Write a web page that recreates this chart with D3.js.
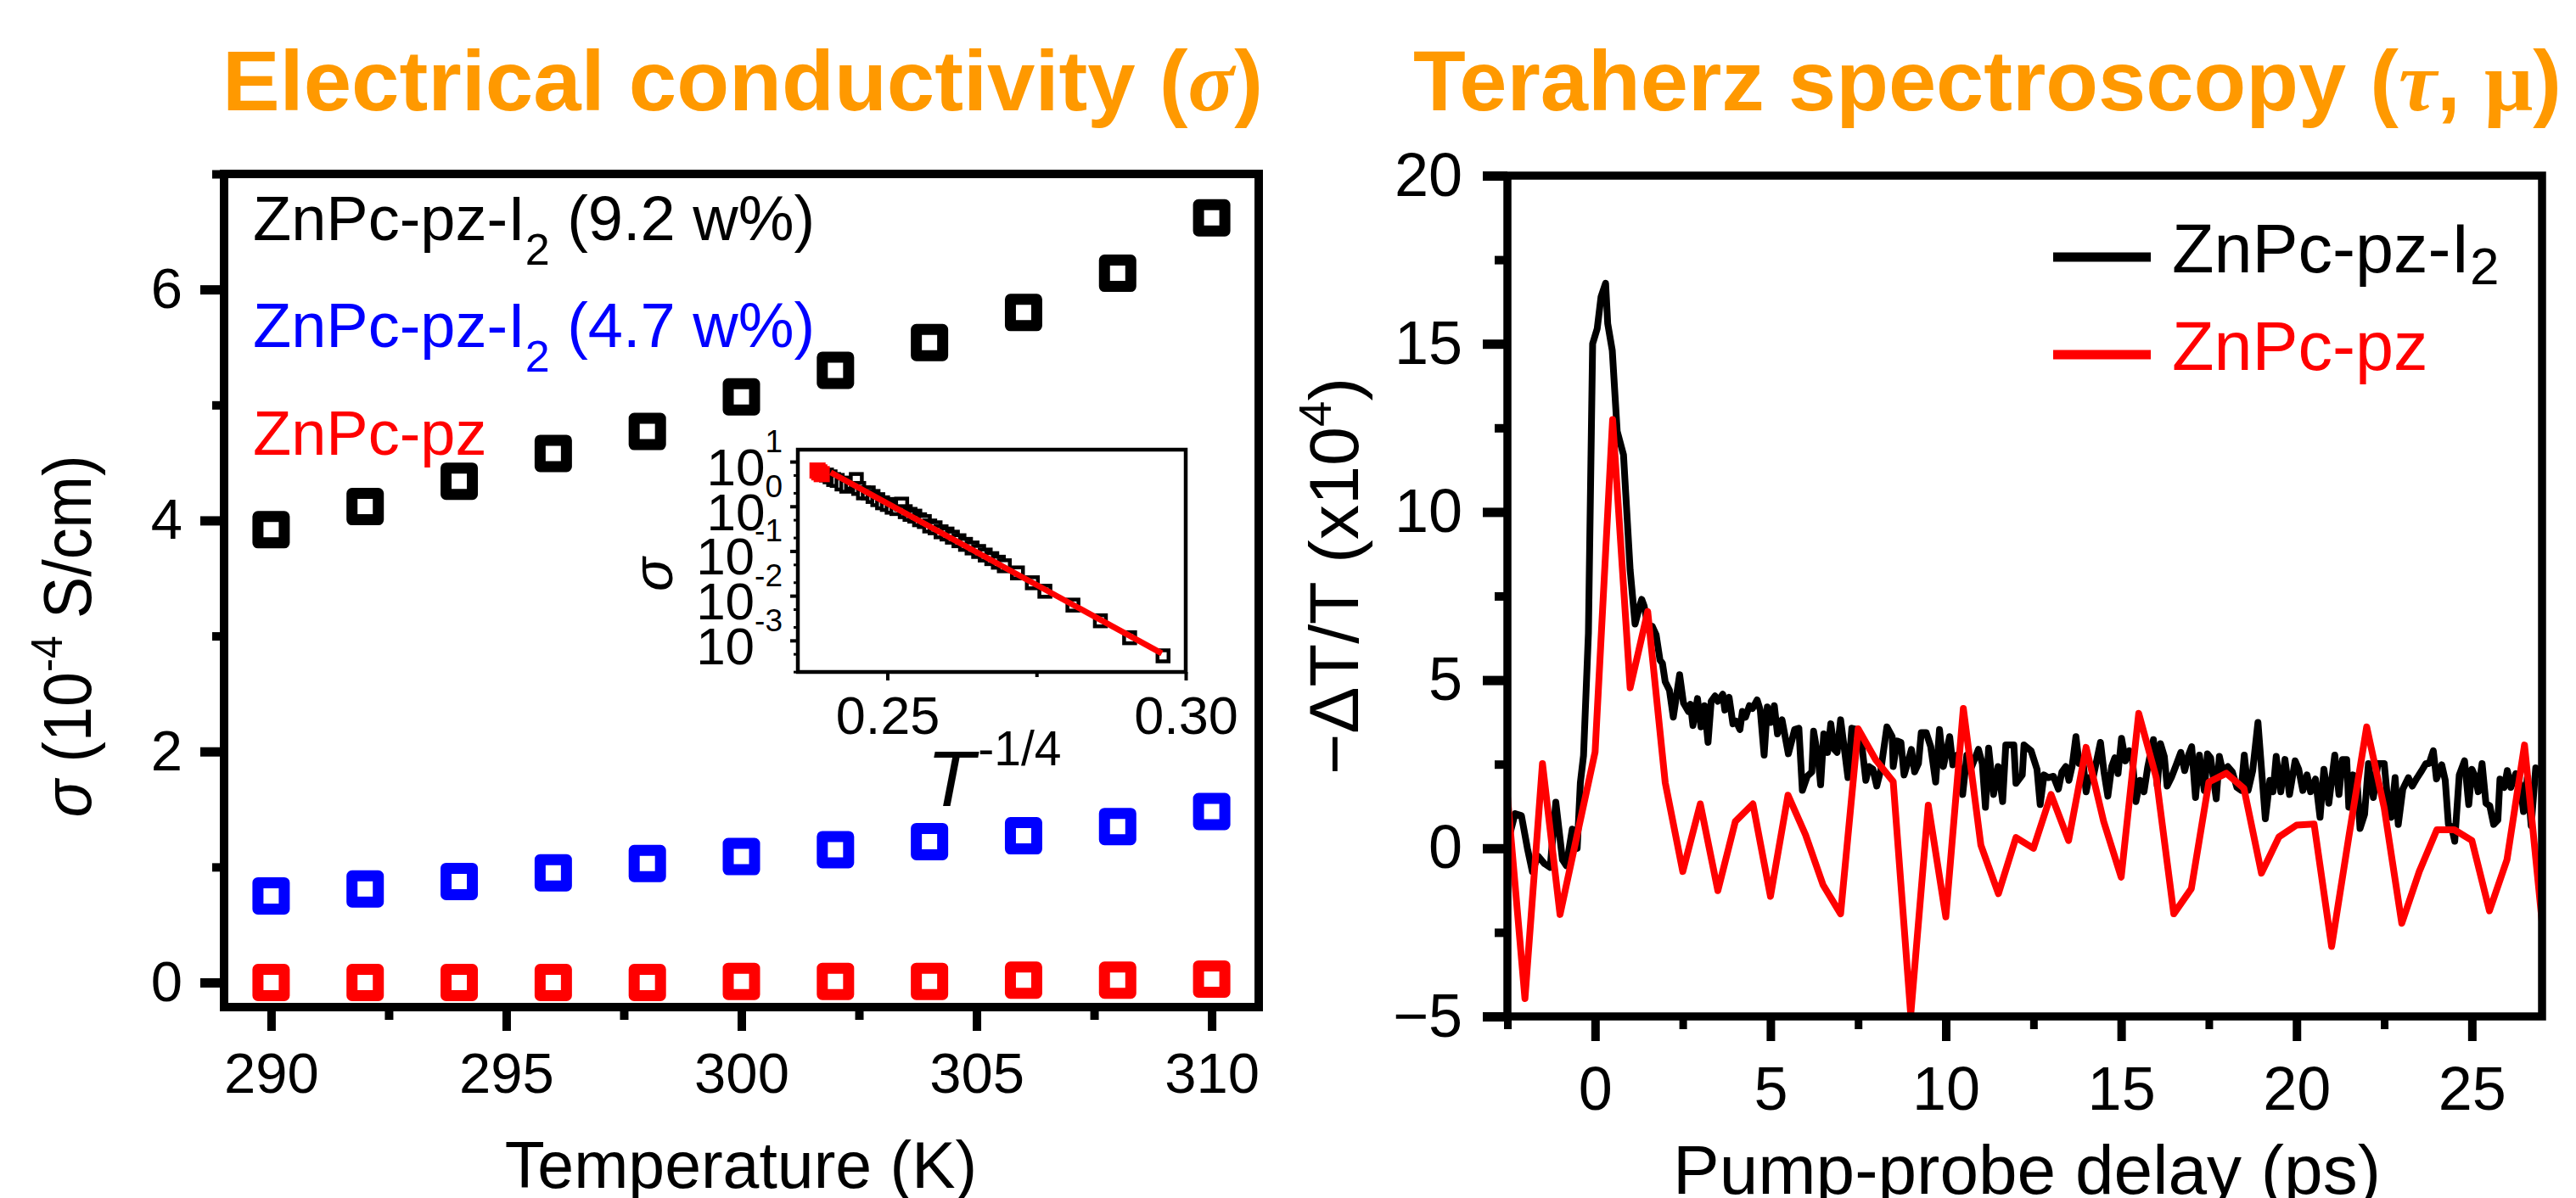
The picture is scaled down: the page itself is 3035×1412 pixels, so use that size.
<!DOCTYPE html>
<html>
<head>
<meta charset="utf-8">
<script src="https://cdn.jsdelivr.net/npm/d3@7"></script>
<style>
  body { margin: 0; background: #fff; }
  svg text { font-family: "Liberation Sans", Arial, Helvetica, sans-serif; }
</style>
</head>
<body>
<svg id="chart" width="3035" height="1412"></svg>
<script>
// ---------------- data ----------------
// left panel: conductivity vs temperature (10^-4 S/cm)
const temperature = [290, 292, 294, 296, 298, 300, 302, 304, 306, 308, 310];
const sigmaDoped92 = [3.92, 4.12, 4.34, 4.58, 4.77, 5.07, 5.30, 5.54, 5.80, 6.14, 6.62];
const sigmaDoped47 = [0.75, 0.81, 0.875, 0.95, 1.03, 1.09, 1.15, 1.22, 1.27, 1.35, 1.48];
const sigmaPristine = [0.00, 0.00, 0.00, 0.00, 0.00, 0.01, 0.01, 0.01, 0.02, 0.02, 0.03];
const tempTicks = [290, 295, 300, 305, 310];
const sigmaTicks = [0, 2, 4, 6];

// inset: sigma vs T^-1/4 (log)
const insetX = [0.2398, 0.2404, 0.2410, 0.2416, 0.2424, 0.2432, 0.2440, 0.2448, 0.2452, 0.2460,
  0.2468, 0.2476, 0.2484, 0.2492, 0.2500, 0.2508, 0.2516, 0.2524, 0.2530, 0.2538, 0.2546, 0.2554,
  0.2562, 0.2571, 0.2580, 0.2590, 0.2600, 0.2609, 0.2620, 0.2631, 0.2642, 0.2653, 0.2664, 0.2675,
  0.2686, 0.2696, 0.2718, 0.2743, 0.2764, 0.2811, 0.2857, 0.2906, 0.2962];
const insetSigma = [5.01, 4.57, 3.98, 3.80, 3.16, 2.82, 3.31, 3.98, 2.51, 2.00,
  2.00, 1.66, 1.41, 1.20, 1.10, 0.955, 0.891, 1.12, 0.759, 0.661, 0.603, 0.501,
  0.457, 0.363, 0.331, 0.269, 0.240, 0.204, 0.170, 0.141, 0.117, 0.0977, 0.0813, 0.0676,
  0.0562, 0.0468, 0.0324, 0.0195, 0.0126, 0.00617, 0.00275, 0.00115, 0.000452];
const insetRedX = [0.2383, 0.2386, 0.2390];
const insetRedSigma = [6.31, 5.75, 5.25];
const fitX = [0.2405, 0.2960];
const fitSigma = [5.75, 0.000513];
const insetXTicks = [0.25, 0.30];
const insetYTicks = [10, 1, 0.1, 0.01, 0.001];
const insetYExp = ["1", "0", "-1", "-2", "-3"];

// right panel: -dT/T (x10^4) vs pump-probe delay (ps)
const traceDoped = [
  [-2.45, 0.34], [-2.28, 1.03], [-2.10, 0.97], [-1.93, 0.00], [-1.79, -0.69], [-1.63, -0.23],
  [-1.44, -0.46], [-1.28, -0.57], [-1.12, 1.37], [-0.93, -0.34], [-0.82, -0.52], [-0.65, 0.57],
  [-0.51, 0.00], [-0.42, 1.95], [-0.33, 2.75], [-0.19, 6.40], [-0.07, 15.0], [0.06, 15.45],
  [0.17, 16.4], [0.30, 16.8], [0.36, 15.6], [0.49, 14.8], [0.63, 12.4], [0.81, 11.7],
  [1.00, 8.27], [1.14, 6.67], [1.27, 7.2], [1.33, 7.4], [1.40, 7.2], [1.52, 6.5], [1.63, 6.6],
  [1.74, 6.35], [1.85, 5.6], [1.92, 5.50], [2.00, 4.95], [2.12, 4.70], [2.23, 3.90], [2.41, 5.16],
  [2.52, 4.32], [2.66, 4.07], [2.72, 4.28], [2.79, 3.65], [2.92, 4.45], [3.02, 3.61], [3.12, 4.24],
  [3.22, 3.15], [3.31, 4.37], [3.42, 4.53], [3.50, 4.37], [3.64, 4.58], [3.70, 4.11], [3.82, 4.49],
  [3.93, 3.70], [4.02, 3.78], [4.13, 3.53], [4.20, 4.07], [4.29, 3.90], [4.40, 4.24], [4.49, 4.16],
  [4.62, 4.41], [4.71, 4.11], [4.82, 2.77], [4.91, 4.20], [5.00, 3.74], [5.11, 4.24], [5.20, 3.40],
  [5.33, 3.82], [5.51, 2.81], [5.69, 3.53], [5.81, 3.57], [5.91, 1.72], [6.05, 2.14], [6.18, 2.27],
  [6.23, 3.48], [6.36, 2.69], [6.43, 1.89], [6.52, 3.40], [6.63, 2.85], [6.72, 3.70], [6.82, 2.94],
  [6.90, 2.85], [7.00, 3.82], [7.12, 2.85], [7.21, 2.10], [7.32, 3.57], [7.47, 3.53], [7.61, 3.02],
  [7.72, 2.02], [7.81, 2.43], [7.92, 2.35], [8.03, 1.85], [8.15, 2.35], [8.32, 3.61], [8.47, 3.32],
  [8.50, 2.43], [8.61, 3.19], [8.72, 3.15], [8.81, 2.18], [8.93, 2.60], [9.02, 2.94], [9.11, 2.27],
  [9.22, 2.52], [9.30, 3.44], [9.44, 3.44], [9.57, 3.02], [9.71, 1.97], [9.82, 3.53], [9.93, 2.43],
  [10.11, 3.32], [10.20, 2.48], [10.33, 2.77], [10.48, 1.60], [10.60, 2.77], [10.71, 2.35],
  [10.93, 2.94], [11.04, 2.52], [11.13, 1.22], [11.22, 2.98], [11.36, 1.60], [11.49, 2.43],
  [11.62, 1.39], [11.71, 3.07], [11.94, 3.07], [12.00, 1.93], [12.18, 2.18], [12.23, 3.07],
  [12.43, 2.90], [12.60, 2.35], [12.69, 1.30], [12.80, 2.18], [12.92, 2.10], [13.07, 2.14],
  [13.21, 1.76], [13.31, 2.27], [13.42, 2.43], [13.51, 2.02], [13.60, 2.43], [13.71, 3.32],
  [13.80, 2.52], [13.91, 2.60], [14.00, 1.68], [14.08, 2.10], [14.20, 2.10], [14.41, 3.15],
  [14.51, 2.27], [14.62, 1.55], [14.73, 2.43], [14.82, 2.69], [14.91, 2.22], [15.01, 3.27],
  [15.12, 2.60], [15.23, 2.90], [15.32, 2.64], [15.42, 1.39], [15.54, 2.02], [15.65, 1.68],
  [15.76, 2.43], [15.92, 3.23], [16.03, 1.85], [16.12, 3.11], [16.23, 2.73], [16.31, 1.85],
  [16.43, 2.10], [16.57, 2.48], [16.70, 2.85], [16.81, 2.31], [16.92, 2.77], [17.01, 3.02],
  [17.12, 1.51], [17.23, 2.77], [17.37, 1.72], [17.46, 2.81], [17.55, 2.69], [17.71, 1.47],
  [17.80, 2.73], [17.90, 2.27], [18.04, 2.43], [18.17, 2.27], [18.30, 1.81], [18.42, 1.72],
  [18.51, 2.77], [18.62, 1.72], [18.75, 2.31], [18.90, 3.74], [19.02, 2.10], [19.11, 0.88],
  [19.24, 2.02], [19.33, 1.68], [19.42, 2.73], [19.55, 1.68], [19.67, 2.64], [19.80, 1.60],
  [19.96, 2.60], [20.06, 2.35], [20.18, 1.72], [20.30, 2.18], [20.40, 1.68], [20.54, 2.06],
  [20.67, 0.92], [20.78, 2.35], [20.92, 1.34], [21.09, 2.77], [21.21, 1.60], [21.31, 2.64],
  [21.43, 2.64], [21.49, 1.22], [21.61, 2.18], [21.72, 2.10], [21.81, 0.59], [21.94, 1.01],
  [22.05, 2.52], [22.19, 1.51], [22.32, 2.52], [22.50, 2.52], [22.59, 1.51], [22.70, 0.92],
  [22.81, 2.10], [22.90, 0.71], [23.03, 1.76], [23.19, 2.10], [23.30, 1.85], [23.44, 2.10],
  [23.57, 2.31], [23.69, 2.52], [23.78, 2.52], [23.90, 2.90], [23.99, 2.06], [24.14, 2.48],
  [24.24, 2.02], [24.33, 0.71], [24.42, 0.63], [24.51, 0.21], [24.64, 2.18], [24.79, 2.60],
  [24.91, 1.30], [25.00, 2.35], [25.09, 2.14], [25.18, 1.68], [25.29, 2.52], [25.40, 1.34],
  [25.51, 1.26], [25.62, 0.71], [25.74, 0.84], [25.80, 2.06], [25.92, 1.81], [26.01, 2.31],
  [26.11, 1.81], [26.25, 2.22], [26.38, 1.89], [26.47, 1.09], [26.58, 2.10], [26.69, 0.67],
  [26.82, 2.39], [26.90, 2.10]
];
const tracePristine = [
  [-2.5, 1.55], [-2.0, -4.47], [-1.5, 2.52], [-1.0, -1.97], [-0.5, 0.45], [0.0, 2.86],
  [0.5, 12.75], [1.0, 4.77], [1.5, 7.04], [2.0, 1.95], [2.5, -0.69], [3.0, 1.32],
  [3.5, -1.26], [4.0, 0.80], [4.5, 1.32], [5.0, -1.43], [5.5, 1.58], [6.0, 0.40],
  [6.5, -1.09], [7.0, -1.95], [7.5, 3.55], [8.0, 2.63], [8.5, 1.98], [9.0, -4.95],
  [9.5, 1.28], [10.0, -2.04], [10.5, 4.16], [11.0, 0.09], [11.5, -1.35], [12.0, 0.32],
  [12.5, 0.0], [13.0, 1.60], [13.5, 0.23], [14.0, 3.0], [14.5, 0.80], [15.0, -0.86],
  [15.5, 4.01], [16.0, 2.10], [16.5, -1.95], [17.0, -1.20], [17.5, 1.97], [18.0, 2.23],
  [18.5, 1.78], [19.0, -0.74], [19.5, 0.34], [20.0, 0.69], [20.5, 0.72], [21.0, -2.92],
  [21.5, 0.40], [22.0, 3.61], [22.5, 1.2], [23.0, -2.23], [23.5, -0.69], [24.0, 0.55],
  [24.5, 0.55], [25.0, 0.23], [25.5, -1.86], [26.0, -0.34], [26.5, 3.07], [27.0, -2.18]
];
const delayTicks = [0, 5, 10, 15, 20, 25];
const delayMinor = [-2.5, 2.5, 7.5, 12.5, 17.5, 22.5];
const signalTicks = [-5, 0, 5, 10, 15, 20];
const signalMinor = [-2.5, 2.5, 7.5, 12.5, 17.5];

// ---------------- drawing ----------------
const svg = d3.select("#chart");
const SANS = '"Liberation Sans", Arial, Helvetica, sans-serif';
const SERIF = '"Liberation Serif", "Times New Roman", serif';
const orange = "#ff9900";

function styleAxis(g, strokeW, fontSize) {
  g.select(".domain").remove();
  g.selectAll("line").attr("stroke", "#000").attr("stroke-width", strokeW);
  g.selectAll("text").attr("fill", "#000").attr("font-size", fontSize).attr("font-family", SANS);
}

// titles
const t1 = svg.append("text")
  .attr("x", 262).attr("y", 130)
  .attr("font-size", 100).attr("font-weight", "bold").attr("fill", orange)
  .attr("textLength", 1226).attr("lengthAdjust", "spacingAndGlyphs");
t1.append("tspan").text("Electrical conductivity (");
t1.append("tspan").attr("font-family", SERIF).attr("font-style", "italic").text("σ");
t1.append("tspan").text(")");

const t2 = svg.append("text")
  .attr("x", 1665).attr("y", 130)
  .attr("font-size", 100).attr("font-weight", "bold").attr("fill", orange)
  .attr("textLength", 1353).attr("lengthAdjust", "spacingAndGlyphs");
t2.append("tspan").text("Teraherz spectroscopy (");
t2.append("tspan").attr("font-family", SERIF).attr("font-style", "italic").text("τ");
t2.append("tspan").text(", ");
t2.append("tspan").attr("font-family", SERIF).text("μ");
t2.append("tspan").text(")");

// ===== left panel =====
const xT = d3.scaleLinear().domain([289, 311]).range([264, 1483]);
const ySig = d3.scaleLinear().domain([-0.213, 7]).range([1187, 205]);

const left = svg.append("g");

const series = [
  {vals: sigmaDoped92, color: "#000"},
  {vals: sigmaDoped47, color: "#0000ff"},
  {vals: sigmaPristine, color: "#ff0000"}
];
series.forEach(s => {
  left.append("g").selectAll("rect")
    .data(temperature.map((t, i) => [t, s.vals[i]]))
    .join("rect")
    .attr("x", d => xT(d[0]) - 15.5)
    .attr("y", d => ySig(d[1]) - 15.5)
    .attr("width", 31).attr("height", 31)
    .attr("fill", "#fff")
    .attr("stroke", s.color)
    .attr("stroke-width", 13)
    .attr("stroke-linejoin", "round");
});

left.append("g").attr("transform", "translate(264,0)")
  .call(d3.axisLeft(ySig).tickValues(sigmaTicks).tickSize(28).tickPadding(21))
  .call(g => styleAxis(g, 11, 67));
left.append("g").attr("transform", "translate(264,0)")
  .call(d3.axisLeft(ySig).tickValues([1, 3, 5, 7]).tickSize(14).tickFormat(""))
  .call(g => styleAxis(g, 10, 67));
left.append("g").attr("transform", "translate(0,1187)")
  .call(d3.axisBottom(xT).tickValues(tempTicks).tickSize(28).tickPadding(25))
  .call(g => styleAxis(g, 10, 67));
left.append("g").attr("transform", "translate(0,1187)")
  .call(d3.axisBottom(xT).tickValues([292.5, 297.5, 302.5, 307.5]).tickSize(15).tickFormat(""))
  .call(g => styleAxis(g, 10, 67));

left.append("rect")
  .attr("x", 264).attr("y", 205).attr("width", 1219).attr("height", 982)
  .attr("fill", "none").attr("stroke", "#000").attr("stroke-width", 10);

// legend (text labels)
function legendText(g, x, y, size, color, main, sub, rest, subSize, subDy) {
  const t = g.append("text").attr("x", x).attr("y", y)
    .attr("font-size", size).attr("fill", color);
  t.append("tspan").text(main);
  if (sub) {
    t.append("tspan").attr("font-size", subSize).attr("dy", subDy).text(sub);
    t.append("tspan").attr("dy", -subDy).text(rest);
  }
  return t;
}
legendText(left, 298, 283, 74, "#000", "ZnPc-pz-I", "2", " (9.2 w%)", 52, 29);
legendText(left, 298, 409, 74, "#0000ff", "ZnPc-pz-I", "2", " (4.7 w%)", 52, 29);
legendText(left, 298, 536, 74, "#ff0000", "ZnPc-pz");

// axis titles
const yl = left.append("text")
  .attr("transform", "translate(107,750) rotate(-90)")
  .attr("text-anchor", "middle").attr("font-size", 80)
  .attr("textLength", 427).attr("lengthAdjust", "spacingAndGlyphs");
yl.append("tspan").attr("font-style", "italic").text("σ");
yl.append("tspan").text(" (10");
yl.append("tspan").attr("font-size", 52).attr("dy", -34).text("-4");
yl.append("tspan").attr("dy", 34).text(" S/cm)");

left.append("text").attr("x", 873).attr("y", 1400)
  .attr("text-anchor", "middle").attr("font-size", 77).text("Temperature (K)");

// ===== inset =====
const xi = d3.scaleLinear().domain([0.235, 0.30]).range([940, 1397]);
const yi = d3.scaleLog().domain([1.97e-4, 18.5]).range([792, 530]);
const inset = svg.append("g");

inset.append("rect").attr("x", 940).attr("y", 530).attr("width", 457).attr("height", 262)
  .attr("fill", "#fff");

inset.append("g").selectAll("rect")
  .data(insetX.map((x, i) => [x, insetSigma[i]]))
  .join("rect")
  .attr("x", d => xi(d[0]) - 6.5).attr("y", d => yi(d[1]) - 6.5)
  .attr("width", 13).attr("height", 13)
  .attr("fill", "#fff").attr("stroke", "#000").attr("stroke-width", 4.5);

inset.append("g").selectAll("rect")
  .data(insetRedX.map((x, i) => [x, insetRedSigma[i]]))
  .join("rect")
  .attr("x", d => xi(d[0]) - 6.5).attr("y", d => yi(d[1]) - 6.5)
  .attr("width", 13).attr("height", 13)
  .attr("fill", "#ff0000").attr("stroke", "#ff0000").attr("stroke-width", 6);

inset.append("path")
  .datum(fitX.map((x, i) => [x, fitSigma[i]]))
  .attr("d", d3.line().x(d => xi(d[0])).y(d => yi(d[1])))
  .attr("fill", "none").attr("stroke", "#ff0000").attr("stroke-width", 7);

inset.append("g").attr("transform", "translate(0,792)")
  .call(d3.axisBottom(xi).tickValues(insetXTicks).tickSize(10).tickPadding(18)
    .tickFormat(d3.format(".2f")))
  .call(g => styleAxis(g, 4, 63));
inset.append("g").attr("transform", "translate(0,792)")
  .call(d3.axisBottom(xi).tickValues([0.275]).tickSize(6).tickFormat(""))
  .call(g => styleAxis(g, 4, 63));

const minorLog = [];
[1, 0.1, 0.01, 0.001, 0.0001].forEach(p => [2, 5].forEach(m => {
  const v = p * m;
  if (v > 1.97e-4 && v < 18.5) minorLog.push(v);
}));
inset.append("g").attr("transform", "translate(940,0)")
  .call(d3.axisLeft(yi).tickValues(insetYTicks).tickSize(9).tickFormat(""))
  .call(g => styleAxis(g, 4, 60));
inset.append("g").attr("transform", "translate(940,0)")
  .call(d3.axisLeft(yi).tickValues(minorLog).tickSize(5).tickFormat(""))
  .call(g => styleAxis(g, 3, 60));

insetYTicks.forEach((v, i) => {
  const t = inset.append("text")
    .attr("x", 922).attr("y", yi(v) + 28)
    .attr("text-anchor", "end").attr("font-size", 62);
  t.append("tspan").text("10");
  t.append("tspan").attr("font-size", 37).attr("dy", -39).text(insetYExp[i]);
});

inset.append("rect").attr("x", 940).attr("y", 530).attr("width", 457).attr("height", 262)
  .attr("fill", "none").attr("stroke", "#000").attr("stroke-width", 4.5);

inset.append("text")
  .attr("transform", "translate(792,677) rotate(-90)")
  .attr("text-anchor", "middle").attr("font-size", 66).attr("font-style", "italic")
  .text("σ");

const xil = inset.append("text").attr("x", 1092).attr("y", 950).attr("font-size", 92);
xil.append("tspan").attr("font-style", "italic").text("T");
xil.append("tspan").attr("font-size", 57).attr("dy", -48).attr("dx", 4).text("-1/4");

// ===== right panel =====
const xD = d3.scaleLinear().domain([-2.5, 27]).range([1776, 2995]);
const yS = d3.scaleLinear().domain([-5, 20]).range([1198, 207]);
const right = svg.append("g");

right.append("clipPath").attr("id", "clipR")
  .append("rect").attr("x", 1776).attr("y", 207).attr("width", 1219).attr("height", 991);

const line = d3.line().x(d => xD(d[0])).y(d => yS(d[1]));
const lines = right.append("g").attr("clip-path", "url(#clipR)");
lines.append("path").datum(traceDoped).attr("d", line)
  .attr("fill", "none").attr("stroke", "#000").attr("stroke-width", 8)
  .attr("stroke-linejoin", "round");
lines.append("path").datum(tracePristine).attr("d", line)
  .attr("fill", "none").attr("stroke", "#ff0000").attr("stroke-width", 8)
  .attr("stroke-linejoin", "round");

right.append("g").attr("transform", "translate(1776,0)")
  .call(d3.axisLeft(yS).tickValues(signalTicks).tickSize(29).tickPadding(24))
  .call(g => styleAxis(g, 11, 72));
right.append("g").attr("transform", "translate(1776,0)")
  .call(d3.axisLeft(yS).tickValues(signalMinor).tickSize(15).tickFormat(""))
  .call(g => styleAxis(g, 10, 72));
right.append("g").attr("transform", "translate(0,1198)")
  .call(d3.axisBottom(xD).tickValues(delayTicks).tickSize(29).tickPadding(30))
  .call(g => styleAxis(g, 10, 72));
right.append("g").attr("transform", "translate(0,1198)")
  .call(d3.axisBottom(xD).tickValues(delayMinor).tickSize(15).tickFormat(""))
  .call(g => styleAxis(g, 9, 72));

right.append("rect")
  .attr("x", 1776).attr("y", 207).attr("width", 1219).attr("height", 991)
  .attr("fill", "none").attr("stroke", "#000").attr("stroke-width", 9.5);

// legend
const legR = [
  {y: 303, color: "#000", main: "ZnPc-pz-I", sub: "2"},
  {y: 418, color: "#ff0000", main: "ZnPc-pz", sub: null}
];
legR.forEach(d => {
  right.append("line").attr("x1", 2419).attr("x2", 2534).attr("y1", d.y).attr("y2", d.y)
    .attr("stroke", d.color).attr("stroke-width", 11);
  legendText(right, 2559, d.y + 18, 81, d.color, d.main, d.sub, "", 62, 14);
});

const yr = right.append("text")
  .attr("transform", "translate(1600,679) rotate(-90)")
  .attr("text-anchor", "middle").attr("font-size", 82)
  .attr("textLength", 468).attr("lengthAdjust", "spacingAndGlyphs");
yr.append("tspan").text("−ΔT/T (x10");
yr.append("tspan").attr("font-size", 54).attr("dy", -32).text("4");
yr.append("tspan").attr("dy", 32).text(")");

right.append("text").attr("x", 2388).attr("y", 1407)
  .attr("text-anchor", "middle").attr("font-size", 82).text("Pump-probe delay (ps)");
</script>
</body>
</html>
